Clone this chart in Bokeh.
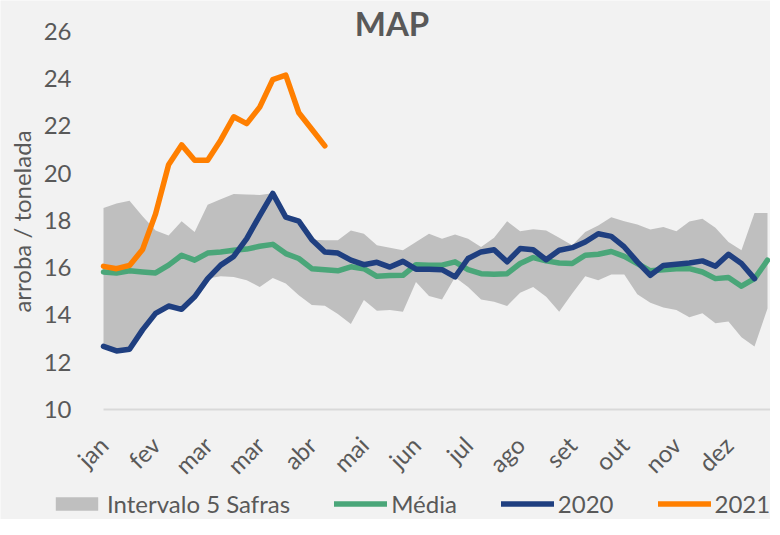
import math
import numpy as np
from bokeh.plotting import figure
from bokeh.models import Range1d, FixedTicker, Legend, LegendItem, Label
from bokeh.embed import file_html
from bokeh.resources import INLINE

# ---- data (weekly, 52 weeks) ----
month_labels = ["jan", "fev", "mar", "mar", "abr", "mai", "jun", "jul", "ago", "set", "out", "nov", "dez"]
label_every = 4

band_upper = [18.53, 18.72, 18.84, 18.18, 17.58, 17.37, 17.97, 17.51, 18.67, 18.90,
              19.12, 19.10, 19.08, 19.15, 18.14, 17.97, 17.19, 17.16, 17.16, 17.58,
              17.44, 16.95, 16.85, 16.74, 17.09, 17.44, 17.23, 17.41, 17.23, 16.88,
              17.27, 17.97, 17.55, 17.63, 17.58, 17.27, 16.95, 17.51, 17.79, 18.14,
              17.97, 17.83, 17.62, 17.72, 17.54, 17.96, 18.07, 17.69, 17.09, 16.74,
              18.32, 18.32]
band_lower = [12.67, 12.48, 12.55, 13.37, 14.07, 14.38, 14.24, 14.77, 15.54, 15.64,
              15.61, 15.47, 15.19, 15.57, 15.33, 14.84, 14.42, 14.39, 14.04, 13.62,
              14.63, 14.18, 14.21, 14.14, 15.40, 14.80, 14.66, 15.60, 15.19, 14.66,
              14.56, 14.38, 14.94, 15.19, 14.77, 14.14, 14.91, 15.64, 15.47, 15.71,
              15.71, 14.88, 14.52, 14.32, 14.21, 13.90, 14.07, 13.65, 13.72, 13.06,
              12.67, 14.28]
media = [15.82, 15.78, 15.87, 15.82, 15.78, 16.11, 16.53, 16.32, 16.62, 16.67,
         16.74, 16.79, 16.91, 16.99, 16.60, 16.39, 15.96, 15.92, 15.87, 16.04,
         15.96, 15.64, 15.67, 15.68, 16.13, 16.11, 16.11, 16.25, 15.92, 15.75,
         15.73, 15.75, 16.18, 16.43, 16.29, 16.20, 16.18, 16.53, 16.57, 16.69,
         16.48, 16.18, 15.87, 15.92, 15.96, 15.96, 15.82, 15.54, 15.59, 15.22,
         15.54, 16.32]
s2020 = [12.67, 12.48, 12.55, 13.37, 14.07, 14.38, 14.24, 14.77, 15.54, 16.11,
         16.48, 17.23, 18.21, 19.15, 18.14, 17.97, 17.19, 16.67, 16.62, 16.32,
         16.13, 16.23, 16.03, 16.27, 15.94, 15.94, 15.92, 15.61, 16.39, 16.67,
         16.76, 16.25, 16.81, 16.76, 16.34, 16.74, 16.85, 17.09, 17.44, 17.33,
         16.88, 16.25, 15.68, 16.10, 16.15, 16.20, 16.29, 16.06, 16.57, 16.18,
         15.54]
s2021 = [16.06, 15.96, 16.10, 16.77, 18.28, 20.36, 21.20, 20.55, 20.55, 21.40,
         22.39, 22.10, 22.80, 23.96, 24.15, 22.56, 21.86, 21.16]

FONT = "Lato"
TXT = "#595959"
BG = "#f2f2f2"

weeks = np.arange(len(media))
tick_pos = list(range(0, len(media), label_every))

# The frame covers the whole figure; axes are drawn at fixed data locations
p = figure(width=770, height=519, output_backend="svg", toolbar_location=None,
           x_range=Range1d(-7.911, 51.23), y_range=Range1d(5.344, 27.312),
           min_border_left=0, min_border_right=0, min_border_top=0,
           min_border_bottom=0)
p.background_fill_color = BG
p.border_fill_color = BG
p.outline_line_color = None
p.xgrid.visible = False
p.ygrid.visible = False

band = p.varea(x=weeks, y1=band_lower, y2=band_upper, fill_color="#bfbfbf", fill_alpha=1.0)
l_media = p.line(weeks, media, line_color="#4aa679", line_width=5.5, line_join="round", line_cap="round")
l_2020 = p.line(np.arange(len(s2020)), s2020, line_color="#1f3f80", line_width=5.5,
                line_join="round", line_cap="round")
l_2021 = p.line(np.arange(len(s2021)), s2021, line_color="#ff7f00", line_width=5.5,
                line_join="round", line_cap="round")

# y axis (drawn at x = first week)
p.yaxis.fixed_location = 0
p.yaxis.ticker = FixedTicker(ticks=list(range(10, 27, 2)))
p.yaxis.axis_line_color = None
p.yaxis.major_tick_line_color = None
p.yaxis.minor_tick_line_color = None
p.yaxis.major_label_text_font = FONT
p.yaxis.major_label_text_font_size = "24px"
p.yaxis.major_label_text_color = TXT
p.yaxis.major_label_standoff = 26

# x axis (drawn at y = 10)
p.xaxis.fixed_location = 10
p.xaxis.bounds = (0, 51.23)
p.xaxis.ticker = FixedTicker(ticks=tick_pos)
p.xaxis.major_label_overrides = {t: m for t, m in zip(tick_pos, month_labels)}
p.xaxis.axis_line_color = "#d9d9d9"
p.xaxis.axis_line_width = 2
p.xaxis.major_tick_line_color = None
p.xaxis.minor_tick_line_color = None
p.xaxis.major_label_orientation = math.pi / 4
p.xaxis.major_label_text_font = FONT
p.xaxis.major_label_text_font_size = "24px"
p.xaxis.major_label_text_color = TXT
p.xaxis.major_label_standoff = 25

# y-axis title
p.add_layout(Label(x=-6.30, y=17.957, text="arroba / tonelada", angle=math.pi / 2,
                   text_font=FONT, text_font_size="24px", text_color=TXT,
                   text_align="center", text_baseline="middle"))

# chart title
p.add_layout(Label(x=22.16, y=26.34, text="MAP", text_font=FONT, text_font_size="33px",
                   text_font_style="bold", text_color=TXT, text_align="center",
                   text_baseline="alphabetic"))

legend = Legend(items=[
    LegendItem(label="Intervalo 5 Safras", renderers=[band]),
    LegendItem(label="Média", renderers=[l_media]),
    LegendItem(label="2020", renderers=[l_2020]),
    LegendItem(label="2021", renderers=[l_2021]),
], orientation="horizontal", location=(50, 1), padding=0, spacing=44,
    glyph_width=53, glyph_height=17, label_standoff=4,
    label_text_font=FONT, label_text_font_size="24px", label_text_color=TXT,
    background_fill_alpha=0, border_line_color=None, margin=0)
p.add_layout(legend, "center")

open("out.html", "w").write(file_html(p, INLINE))
